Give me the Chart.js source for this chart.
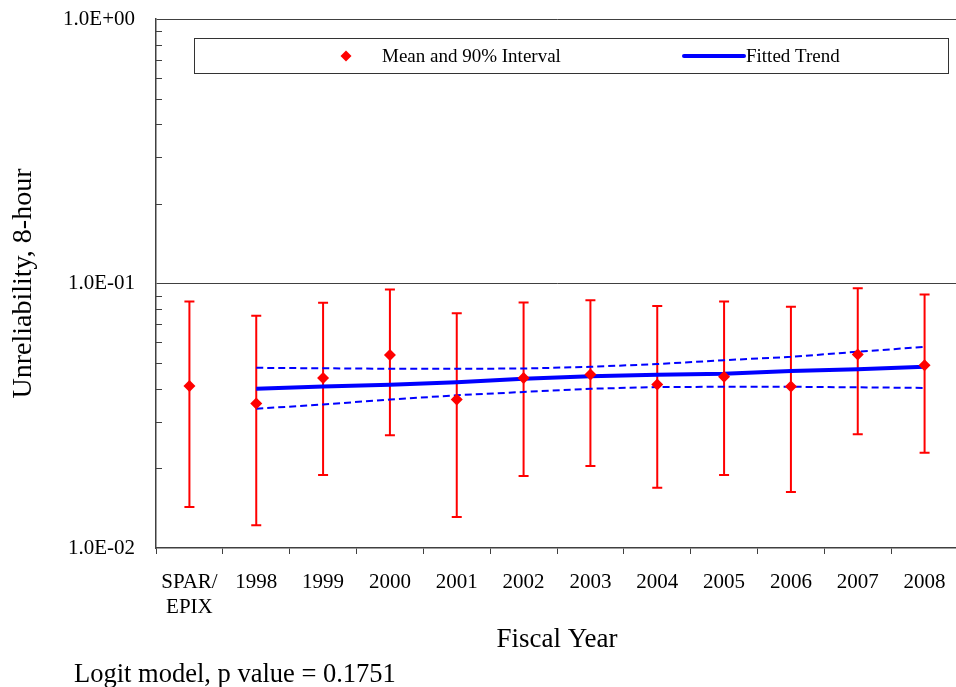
<!DOCTYPE html>
<html>
<head>
<meta charset="utf-8">
<script src="https://cdn.jsdelivr.net/npm/chart.js@4.4.1/dist/chart.umd.min.js"></script>
<style>
html, body { margin: 0; padding: 0; background: #fff; overflow: hidden; }
#wrap { position: relative; width: 956px; height: 687px; overflow: hidden; }
#chart { position: absolute; left: 0; top: 0; }
#note { position: absolute; left: 74px; top: 658px; font: 26.5px/30px "Liberation Serif", serif; color: #000; white-space: nowrap; }
</style>
</head>
<body>
<div id="wrap">
<canvas id="chart" width="964" height="687"></canvas>
<div id="note">Logit model, p value = 0.1751</div>
</div>
<script>
const categories = [['SPAR/', 'EPIX'], '1998', '1999', '2000', '2001', '2002', '2003', '2004', '2005', '2006', '2007', '2008'];

// mean and 90% interval
const meanValues  = [0.0410, 0.0352, 0.0439, 0.0537, 0.0364, 0.0439, 0.0453, 0.0415, 0.0444, 0.0408, 0.0539, 0.0491];
const upperValues = [0.0855, 0.0755, 0.0845, 0.0949, 0.0772, 0.0848, 0.0865, 0.0823, 0.0855, 0.0816, 0.0960, 0.0909];
const lowerValues = [0.0143, 0.0122, 0.0189, 0.0267, 0.0131, 0.0187, 0.0204, 0.0169, 0.0189, 0.0163, 0.0269, 0.0229];

// fitted trend and its bounds
const trendValues = [null, 0.0400, 0.0408, 0.0414, 0.0423, 0.0436, 0.0446, 0.0452, 0.0456, 0.0467, 0.0474, 0.0484];
const trendUpper  = [null, 0.0480, 0.0478, 0.0476, 0.0476, 0.0477, 0.0484, 0.0496, 0.0513, 0.0528, 0.0552, 0.0576];
const trendLower  = [null, 0.0336, 0.0349, 0.0364, 0.0378, 0.0389, 0.0400, 0.0406, 0.0407, 0.0407, 0.0405, 0.0403];

const yTickValues = [0.01, 0.02, 0.03, 0.04, 0.05, 0.06, 0.07, 0.08, 0.09,
                     0.1, 0.2, 0.3, 0.4, 0.5, 0.6, 0.7, 0.8, 0.9, 1];
const yLabelValues = [0.01, 0.1, 1];

const SERIF = '"Liberation Serif", "Times New Roman", serif';
const AXIS = '#404040';

function isMajor(v) {
    return yLabelValues.some(m => Math.abs(m - v) < 1e-9);
}

function sciLabel(v) {
    let exp = Math.round(Math.log10(v));
    let s = exp < 0 ? '-' : '+';
    let n = String(Math.abs(exp)).padStart(2, '0');
    return '1.0E' + s + n;
}

// error bars under everything else
const errorBars = {
    id: 'errorBars',
    beforeDatasetsDraw(chart) {
        const ctx = chart.ctx;
        const x = chart.scales.x, y = chart.scales.y;
        ctx.save();
        ctx.strokeStyle = '#ff0000';
        ctx.lineWidth = 2;
        for (let i = 0; i < meanValues.length; i++) {
            let px = x.getPixelForValue(i);
            let top = y.getPixelForValue(upperValues[i]);
            let bot = y.getPixelForValue(lowerValues[i]);
            ctx.beginPath();
            ctx.moveTo(px, top); ctx.lineTo(px, bot);
            ctx.moveTo(px - 5, top); ctx.lineTo(px + 5, top);
            ctx.moveTo(px - 5, bot); ctx.lineTo(px + 5, bot);
            ctx.stroke();
        }
        ctx.restore();
    }
};

// inward minor ticks on the log axis
const minorTicks = {
    id: 'minorTicks',
    afterDraw(chart) {
        const ctx = chart.ctx;
        const y = chart.scales.y;
        const left = chart.chartArea.left;
        ctx.save();
        ctx.strokeStyle = AXIS;
        ctx.lineWidth = 1;
        yTickValues.forEach(v => {
            if (isMajor(v)) return;
            let py = Math.round(y.getPixelForValue(v)) + 0.5;
            ctx.beginPath();
            ctx.moveTo(left, py);
            ctx.lineTo(left + 6, py);
            ctx.stroke();
        });
        ctx.restore();
    }
};

// boxed legend like the original
const boxLegend = {
    id: 'boxLegend',
    afterDraw(chart) {
        const ctx = chart.ctx;
        const ds = chart.data.datasets;
        ctx.save();
        ctx.strokeStyle = '#333';
        ctx.lineWidth = 1;
        ctx.strokeRect(194.5, 38.5, 754, 35);

        ctx.fillStyle = '#ff0000';
        ctx.beginPath();
        ctx.moveTo(346, 50.5); ctx.lineTo(351.5, 56); ctx.lineTo(346, 61.5); ctx.lineTo(340.5, 56);
        ctx.closePath();
        ctx.fill();

        ctx.strokeStyle = '#0000ff';
        ctx.lineWidth = 4;
        ctx.lineCap = 'round';
        ctx.beginPath();
        ctx.moveTo(684, 56); ctx.lineTo(744, 56);
        ctx.stroke();

        ctx.fillStyle = '#000';
        ctx.font = '19px ' + SERIF;
        ctx.textBaseline = 'middle';
        ctx.textAlign = 'left';
        ctx.fillText(ds[0].label, 382, 57);
        ctx.fillText(ds[1].label, 746, 57);
        ctx.restore();
    }
};

const myChart = new Chart(document.getElementById('chart'), {
    type: 'line',
    data: {
        labels: categories,
        datasets: [
            {
                label: 'Mean and 90% Interval',
                data: meanValues,
                showLine: false,
                pointStyle: 'rectRot',
                pointRadius: 6,
                pointBackgroundColor: '#ff0000',
                pointBorderColor: '#ff0000',
                pointBorderWidth: 0
            },
            {
                label: 'Fitted Trend',
                data: trendValues,
                borderColor: '#0000ff',
                borderWidth: 4,
                pointRadius: 0,
                tension: 0
            },
            {
                label: 'Upper bound',
                data: trendUpper,
                borderColor: '#0000ff',
                borderWidth: 2,
                borderDash: [7, 4],
                pointRadius: 0,
                tension: 0
            },
            {
                label: 'Lower bound',
                data: trendLower,
                borderColor: '#0000ff',
                borderWidth: 2,
                borderDash: [7, 4],
                pointRadius: 0,
                tension: 0
            }
        ]
    },
    options: {
        responsive: false,
        animation: false,
        layout: { padding: { top: 19, right: 0, bottom: 31, left: 0 } },
        plugins: {
            legend: { display: false },
            tooltip: { enabled: false }
        },
        scales: {
            x: {
                type: 'category',
                offset: true,
                grid: {
                    offset: true,
                    drawOnChartArea: false,
                    color: AXIS,
                    tickLength: 6
                },
                border: { color: AXIS, width: 1.5 },
                ticks: {
                    color: '#000',
                    font: { family: SERIF, size: 21, lineHeight: 1.19 },
                    padding: 16,
                    maxRotation: 0,
                    autoSkip: false
                },
                title: {
                    display: true,
                    text: 'Fiscal Year',
                    color: '#000',
                    font: { family: SERIF, size: 27 },
                    padding: { top: 0, bottom: 0 }
                },
                afterFit(scale) {
                    scale.height = 108;
                    scale.paddingLeft = 0;
                    scale.paddingRight = 0;
                }
            },
            y: {
                type: 'logarithmic',
                min: 0.01,
                max: 1,
                afterBuildTicks(scale) {
                    scale.ticks = yTickValues.map(v => ({ value: v, major: isMajor(v) }));
                },
                grid: {
                    drawTicks: false,
                    color: ctx => (ctx.tick && (ctx.tick.value === 0.1 || ctx.tick.value === 1)) ? AXIS : 'rgba(0,0,0,0)',
                    lineWidth: 1
                },
                border: { color: AXIS, width: 1.5 },
                ticks: {
                    autoSkip: false,
                    color: '#000',
                    font: { family: SERIF, size: 21 },
                    padding: 21,
                    callback: v => isMajor(v) ? sciLabel(v) : ''
                },
                title: {
                    display: true,
                    text: 'Unreliability, 8-hour',
                    color: '#000',
                    font: { family: SERIF, size: 28 },
                    padding: { top: 7, bottom: 0 }
                },
                afterFit(scale) {
                    scale.width = 156;
                    scale.paddingTop = 0;
                    scale.paddingBottom = 0;
                }
            }
        }
    },
    plugins: [errorBars, minorTicks, boxLegend]
});
</script>
</body>
</html>
